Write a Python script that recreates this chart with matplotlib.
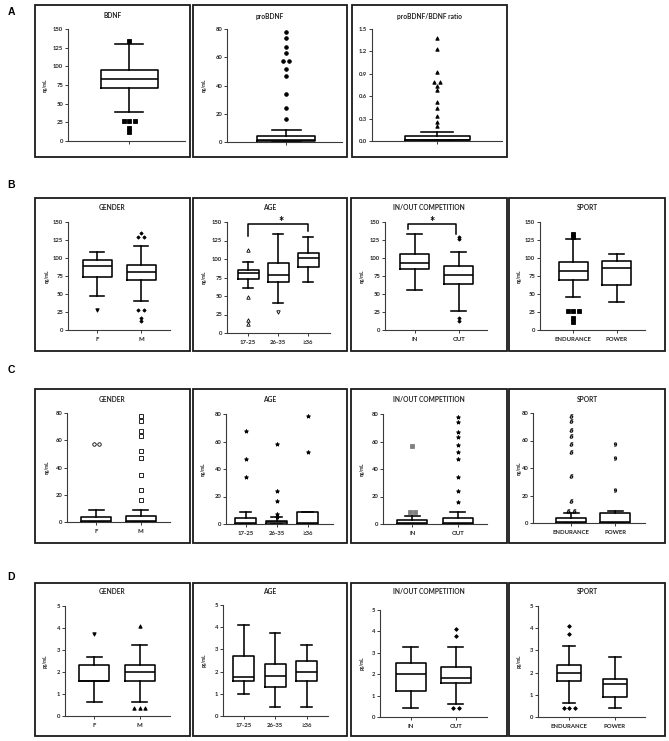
import matplotlib
matplotlib.use('Agg')
import matplotlib.pyplot as plt
from matplotlib.patches import Rectangle

plt.rcParams['font.family'] = ['Lato', 'DejaVu Sans']
plt.rcParams['font.weight'] = 'bold'

# ---------------- data: [whislo, q1, median, q3, whishi] ----------------
a_bdnf_box = [39.5, 70.5, 83.5, 95.2, 129.3]
a_bdnf_out = [134.3, 27.4, 27.4, 27.4, 17.5, 11.7]
a_pro_box = [0.2, 0.5, 1.2, 4.3, 8.8]
a_pro_out = [77.9, 73.9, 67.0, 63.2, 57.2, 57.2, 51.8, 47.0, 34.2, 23.8, 16.4]
a_ratio_box = [0.0, 0.01, 0.015, 0.067, 0.116]
a_ratio_out = [1.38, 1.23, 0.93, 0.79, 0.79, 0.74, 0.68, 0.52, 0.44, 0.34, 0.255, 0.2]

gender_labels = ['F', 'M']
age_labels = ['17-25', '26-35', '≥36']
comp_labels = ['IN', 'OUT']
sport_labels = ['ENDURANCE', 'POWER']

b_gender_box = [[47.5, 73.8, 89.5, 97.8, 108.0], [39.7, 69.2, 80.8, 90.9, 116.3]]
b_gender_out = [[27.2], [134.3, 128.5, 128.5, 27.2, 27.2, 17.0, 12.0]]
b_age_box = [[61.2, 72.5, 81.6, 85.6, 96.5], [39.9, 68.9, 77.9, 95.2, 134.1],
             [69.3, 89.7, 101.9, 108.3, 129.1]]
b_age_out = [[111.5, 48.9, 17.2, 11.8], [28.1], []]
b_comp_box = [[55.2, 84.7, 92.5, 105.4, 133.5], [26.7, 63.5, 76.4, 88.4, 108.1]]
b_comp_out = [[], [128.9, 126.1, 17.0, 12.0]]
b_sport_box = [[45.6, 70.0, 81.5, 93.9, 127.0], [39.1, 63.0, 86.0, 96.2, 105.4]]
b_sport_out = [[133.9, 128.9, 26.7, 26.7, 26.7, 16.6, 11.0], []]

c_gender_box = [[0.0, 0.2, 0.7, 3.7, 8.8], [0.0, 0.2, 1.0, 4.4, 8.8]]
c_gender_out = [[57.5, 57.5], [77.8, 74.1, 67.0, 63.1, 51.9, 47.2, 34.3, 23.7, 16.4]]
c_age_box = [[0.0, 0.2, 0.7, 4.1, 8.8], [0.0, 0.2, 1.2, 1.9, 5.1], [0.0, 0.0, 0.7, 8.8, 8.8]]
c_age_out = [[67.4, 47.4, 34.5], [57.9, 24.1, 16.5, 7.3, 5.1], [78.3, 52.3]]
c_comp_box = [[0.0, 0.2, 1.0, 2.9, 6.0], [0.0, 0.2, 1.0, 4.35, 8.5]]
c_comp_out = [[57.0, 8.5, 8.5], [78.1, 74.0, 67.0, 63.3, 57.5, 52.2, 47.1, 34.1, 23.7, 16.2]]
c_sport_box = [[0.0, 0.0, 0.7, 3.7, 7.6], [0.0, 0.0, 0.7, 7.6, 8.5]]
c_sport_out = [[78.0, 73.9, 67.3, 63.2, 57.6, 52.0, 34.1, 16.3, 9.0, 9.0], [57.3, 47.3, 24.1]]

d_gender_box = [[0.62, 1.6, 1.6, 2.34, 2.69], [0.62, 1.6, 1.99, 2.34, 3.22]]
d_gender_out = [[3.75], [4.09, 0.38, 0.38, 0.38]]
d_age_box = [[1.01, 1.58, 1.76, 2.70, 4.10], [0.39, 1.31, 1.78, 2.35, 3.73],
             [0.39, 1.58, 1.97, 2.5, 3.22]]
d_age_out = [[], [], []]
d_comp_box = [[0.42, 1.23, 1.99, 2.53, 3.25], [0.62, 1.6, 1.8, 2.34, 3.25]]
d_comp_out = [[], [4.1, 3.77, 0.42, 0.42]]
d_sport_box = [[0.63, 1.6, 1.97, 2.35, 3.22], [0.41, 0.92, 1.49, 1.72, 2.70]]
d_sport_out = [[4.1, 3.75, 0.41, 0.41, 0.41], []]

b_age_bracket = [131, 147.7, 138]
b_comp_bracket = [140.8, 147.7, 134]

# ---------------- drawing ----------------
W, H = 669, 741
fig = plt.figure(figsize=(6.69, 7.41), dpi=100)
AXC = '#3a3a3a'


def panel(box, L, R, yt, yb, centers, boxpx, ymax, ystep, stats, outs,
          labels, markers, title, title_y, ylab, ylab_x, fmt='{:.0f}'):
    fig.patches.append(Rectangle((box[0] / W, 1 - box[3] / H), (box[2] - box[0]) / W,
                                 (box[3] - box[1]) / H, transform=fig.transFigure,
                                 fill=False, lw=1.3, edgecolor='#1a1a1a'))
    ax = fig.add_axes([L / W, 1 - yb / H, (R - L) / W, (yb - yt) / H])
    n = len(centers)
    unit = (centers[-1] - centers[0]) / (n - 1) if n > 1 else boxpx / 0.55
    a = 1 - (centers[0] - L) / unit
    ax.set_xlim(a, a + (R - L) / unit)
    ax.set_ylim(0, ymax)
    bstats = [dict(whislo=s[0], q1=s[1], med=s[2], q3=s[3], whishi=s[4], fliers=[])
              for s in stats]
    lp = dict(color='k', lw=1.15)
    arts = ax.bxp(bstats, positions=list(range(1, n + 1)), widths=boxpx / unit,
                  showfliers=False, boxprops=lp, whiskerprops=lp, capprops=lp,
                  medianprops=lp)
    for key in arts:
        for art in arts[key]:
            art.set_clip_on(False)
    sp = 5.5 / unit
    for i, vals in enumerate(outs):
        m = markers[i]
        j = 0
        while j < len(vals):
            k = j
            while k < len(vals) and vals[k] == vals[j]:
                k += 1
            cnt = k - j
            for t in range(cnt):
                x = i + 1 + (t - (cnt - 1) / 2) * sp
                ax.plot(x, vals[j], linestyle='none', clip_on=False, **m)
            j = k
    for s in ['top', 'right']:
        ax.spines[s].set_visible(False)
    for s in ['left', 'bottom']:
        ax.spines[s].set_color(AXC)
        ax.spines[s].set_linewidth(0.8)
    yt_vals = [round(i * ystep, 3) for i in range(int(round(ymax / ystep)) + 1)]
    ax.set_yticks(yt_vals)
    ax.set_yticklabels([fmt.format(v) for v in yt_vals])
    ax.set_xticks(list(range(1, n + 1)))
    ax.set_xticklabels(labels if labels else [''] * n)
    ax.tick_params(axis='y', length=2.2, width=0.7, colors=AXC, labelsize=4.2, pad=1.2)
    ax.tick_params(axis='x', length=2.2, width=0.7, colors=AXC, labelsize=4.3, pad=3.0)
    for lab in ax.get_xticklabels() + ax.get_yticklabels():
        lab.set_fontweight('bold')
        lab.set_color('#222222')
    ax.patch.set_visible(False)
    fig.text((box[0] + box[2]) / 2 / W, 1 - title_y / H, title, ha='center',
             va='center', fontsize=4.8, weight='bold', color='#222222')
    if ylab:
        fig.text(ylab_x / W, 1 - (yt + yb) / 2 / H, ylab, rotation=90, ha='center',
                 va='center', fontsize=3.3, color='#222222')
    return ax


def bracket(ax, x1, x2, legs, star_x):
    y1, yh, y2 = legs
    ax.plot([x1, x1, x2, x2], [y1, yh, yh, y2], color='k', lw=1.1, clip_on=False)
    ax.text(star_x, yh + 2.5, '*', ha='center', va='center', fontsize=9,
            weight='bold', color='k', clip_on=False)


def mk(marker, ms, fill='k', ec='k', mew=0.6):
    return dict(marker=marker, markersize=ms, markerfacecolor=fill,
                markeredgecolor=ec, markeredgewidth=mew)


# Row A
panel((35, 5, 190, 157), 68, 185, 29, 141, [129], 57, 150, 25, [a_bdnf_box],
      [a_bdnf_out], None, [mk('s', 2.5)], 'BDNF', 16, 'ng/mL', 45)
panel((193, 5, 347, 157), 227, 342, 29, 142, [286], 58, 80, 20, [a_pro_box],
      [a_pro_out], None, [mk('o', 2.6)], 'proBDNF', 16, 'ng/mL', 204)
panel((352, 5, 507, 157), 372, 502, 29, 141, [437], 65, 1.5, 0.3, [a_ratio_box],
      [a_ratio_out], None, [mk('^', 2.5)], 'proBDNF/BDNF ratio', 16, None, 0,
      fmt='{:.1f}')

# Row B
panel((35, 198, 190, 351), 68, 170, 222, 330, [97, 141], 29, 150, 25, b_gender_box,
      b_gender_out, gender_labels, [mk('v', 2.5), mk('D', 1.7)], 'GENDER', 208,
      'ng/mL', 47)
axb2 = panel((193, 198, 347, 351), 227, 330, 222, 333, [248, 278, 308], 21, 150, 25,
             b_age_box, b_age_out, age_labels,
             [mk('^', 2.5, 'white'), mk('v', 2.5, 'white'), mk('o', 2)], 'AGE', 208,
             'ng/mL', 204)
bracket(axb2, 1, 3, b_age_bracket, 2.1)
axb3 = panel((351, 198, 507, 351), 385, 487, 222, 330, [414.7, 458.7], 29, 150, 25,
             b_comp_box, b_comp_out, comp_labels, [mk('D', 1.7), mk('D', 1.7)],
             'IN/OUT COMPETITION', 208, 'ng/mL', 362)
bracket(axb3, 0.85, 1.95, b_comp_bracket, 1.4)
panel((509, 198, 665, 351), 540, 645, 222, 330, [573, 616.7], 29, 150, 25,
      b_sport_box, b_sport_out, sport_labels, [mk('s', 2.3), mk('s', 2.3)], 'SPORT',
      208, 'ng/mL', 519)

# Row C
panel((35, 389, 190, 543), 67, 170, 413, 522, [96.3, 140.7], 30, 80, 20,
      c_gender_box, c_gender_out, gender_labels,
      [mk('o', 2.5, 'white'), mk('s', 2.3, 'white')], 'GENDER', 400, 'ng/mL', 47)
panel((193, 389, 347, 543), 226, 333, 414, 524, [245.7, 277, 307.7], 21, 80, 20,
      c_age_box, c_age_out, age_labels,
      [mk('*', 3.0), mk('*', 3.0), mk('*', 3.0)], 'AGE', 400, 'ng/mL', 203)
panel((351, 389, 507, 543), 383, 487, 414, 524, [412.3, 458], 30, 80, 20,
      c_comp_box, c_comp_out, comp_labels,
      [mk('s', 2.4, '#808080', '#808080'), mk('*', 3.0)], 'IN/OUT COMPETITION', 400,
      'ng/mL', 362)
panel((509, 389, 665, 543), 533, 645, 413, 523, [571, 615.3], 30, 80, 20,
      c_sport_box, c_sport_out, sport_labels,
      [mk(r'$\delta$', 3.0, 'k', 'k', 0.2), mk(r'$9$', 2.8, 'k', 'k', 0.2)], 'SPORT',
      400, 'ng/mL', 519)

# Row D
panel((35, 583, 190, 736), 65, 170, 606, 716, [94.3, 139.7], 30, 5, 1,
      d_gender_box, d_gender_out, gender_labels, [mk('v', 2.5), mk('^', 2.5)],
      'GENDER', 592, 'pg/mL', 45)
panel((193, 583, 347, 736), 223, 328, 605, 716, [243.7, 275.7, 306.7], 21, 5, 1,
      d_age_box, d_age_out, age_labels, [mk('o', 2)] * 3, 'AGE', 592, 'pg/mL', 204)
panel((351, 583, 507, 736), 380, 487, 610, 717, [410.7, 456], 30, 5, 1,
      d_comp_box, d_comp_out, comp_labels, [mk('D', 1.9), mk('D', 1.9)],
      'IN/OUT COMPETITION', 592, 'pg/mL', 362)
panel((509, 583, 665, 736), 538, 645, 606, 717, [569.3, 614.7], 24, 5, 1,
      d_sport_box, d_sport_out, sport_labels, [mk('D', 1.9), mk('D', 1.9)], 'SPORT',
      592, 'pg/mL', 519)

# Panel letters
for letter, y in [('A', 12), ('B', 185), ('C', 370), ('D', 577)]:
    fig.text(11 / W, 1 - y / H, letter, ha='center', va='center', fontsize=7.5,
             weight='bold', family=['Liberation Sans', 'DejaVu Sans'])

fig.savefig('out.png', dpi=100)
